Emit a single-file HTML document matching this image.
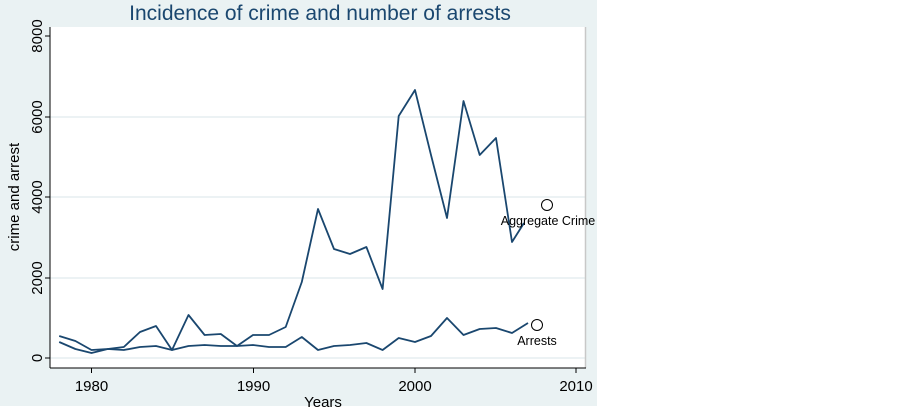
<!DOCTYPE html>
<html><head><style>
body{margin:0;background:#fff;}
svg{display:block;font-family:"Liberation Sans",Arial,sans-serif;}
</style></head><body>
<svg width="902" height="409" viewBox="0 0 902 409">
<rect x="0" y="0" width="597" height="406" fill="#eaf2f3"/>
<rect x="50" y="27" width="536" height="341" fill="#fff"/>
<g stroke="#e6eef0" stroke-width="1.5">
<line x1="50" y1="358" x2="586" y2="358"/>
<line x1="50" y1="278" x2="586" y2="278"/>
<line x1="50" y1="197" x2="586" y2="197"/>
<line x1="50" y1="117" x2="586" y2="117"/>
</g>
<line x1="585.5" y1="27" x2="585.5" y2="368" stroke="#c8c8c8" stroke-width="1.5"/>
<g stroke="#000" stroke-width="1" fill="none">
<line x1="50" y1="27" x2="50" y2="368"/>
<line x1="50" y1="368" x2="586" y2="368"/>
<line x1="45" y1="36" x2="50" y2="36"/><line x1="45" y1="117" x2="50" y2="117"/>
<line x1="45" y1="197" x2="50" y2="197"/><line x1="45" y1="278" x2="50" y2="278"/>
<line x1="45" y1="358" x2="50" y2="358"/>
<line x1="91.5" y1="368" x2="91.5" y2="373"/><line x1="253.5" y1="368" x2="253.5" y2="373"/>
<line x1="415" y1="368" x2="415" y2="373"/><line x1="576" y1="368" x2="576" y2="373"/>
</g>
<g font-size="15" fill="#000" text-anchor="middle">
<text transform="translate(42,36) rotate(-90)">8000</text>
<text transform="translate(42,117) rotate(-90)">6000</text>
<text transform="translate(42,197) rotate(-90)">4000</text>
<text transform="translate(42,278) rotate(-90)">2000</text>
<text transform="translate(42,358) rotate(-90)">0</text>
<text x="91.5" y="391">1980</text><text x="253.5" y="391">1990</text>
<text x="415" y="391">2000</text><text x="576" y="391">2010</text>
<text x="323" y="407">Years</text>
<text transform="translate(19,197) rotate(-90)">crime and arrest</text>
</g>
<text x="320" y="20" font-size="21" fill="#1a476f" text-anchor="middle">Incidence of crime and number of arrests</text>
<g fill="none" stroke="#1a476f" stroke-width="1.8" stroke-linejoin="round">
<polyline points="59.2,336 75.4,341 91.5,350 107.7,349 123.8,347 140,332 156,326 172,350 188.5,315 204.6,335 220.8,334 237,346 253,335 269,335 285.7,327 301.8,282 318,209 334,249 350,254 366.4,247 382.6,289 398.7,116 415,90 431,155 447,218 463.5,101 479.7,155 496,138 512,242 524,223"/>
<polyline points="59.2,342 75.4,349 91.5,353 107.7,349 123.8,350 140,347 156,346 172,350 188.5,346 204.6,345 220.8,346 237,346 253,345 269,347 285.7,347 301.8,337 318,350 334,346 350,345 366.4,343 382.6,350 398.7,338 415,342 431,336 447,318 463.5,335 479.7,329 496,328 512,333 528,323"/>
</g>
<circle cx="547" cy="205" r="5.5" fill="#fff" stroke="#000" stroke-width="1"/>
<circle cx="537" cy="325" r="5.5" fill="#fff" stroke="#000" stroke-width="1"/>
<g font-size="12.5" fill="#000" text-anchor="middle">
<text x="548" y="225">Aggregate Crime</text>
<text x="537" y="345">Arrests</text>
</g>
</svg>
</body></html>
